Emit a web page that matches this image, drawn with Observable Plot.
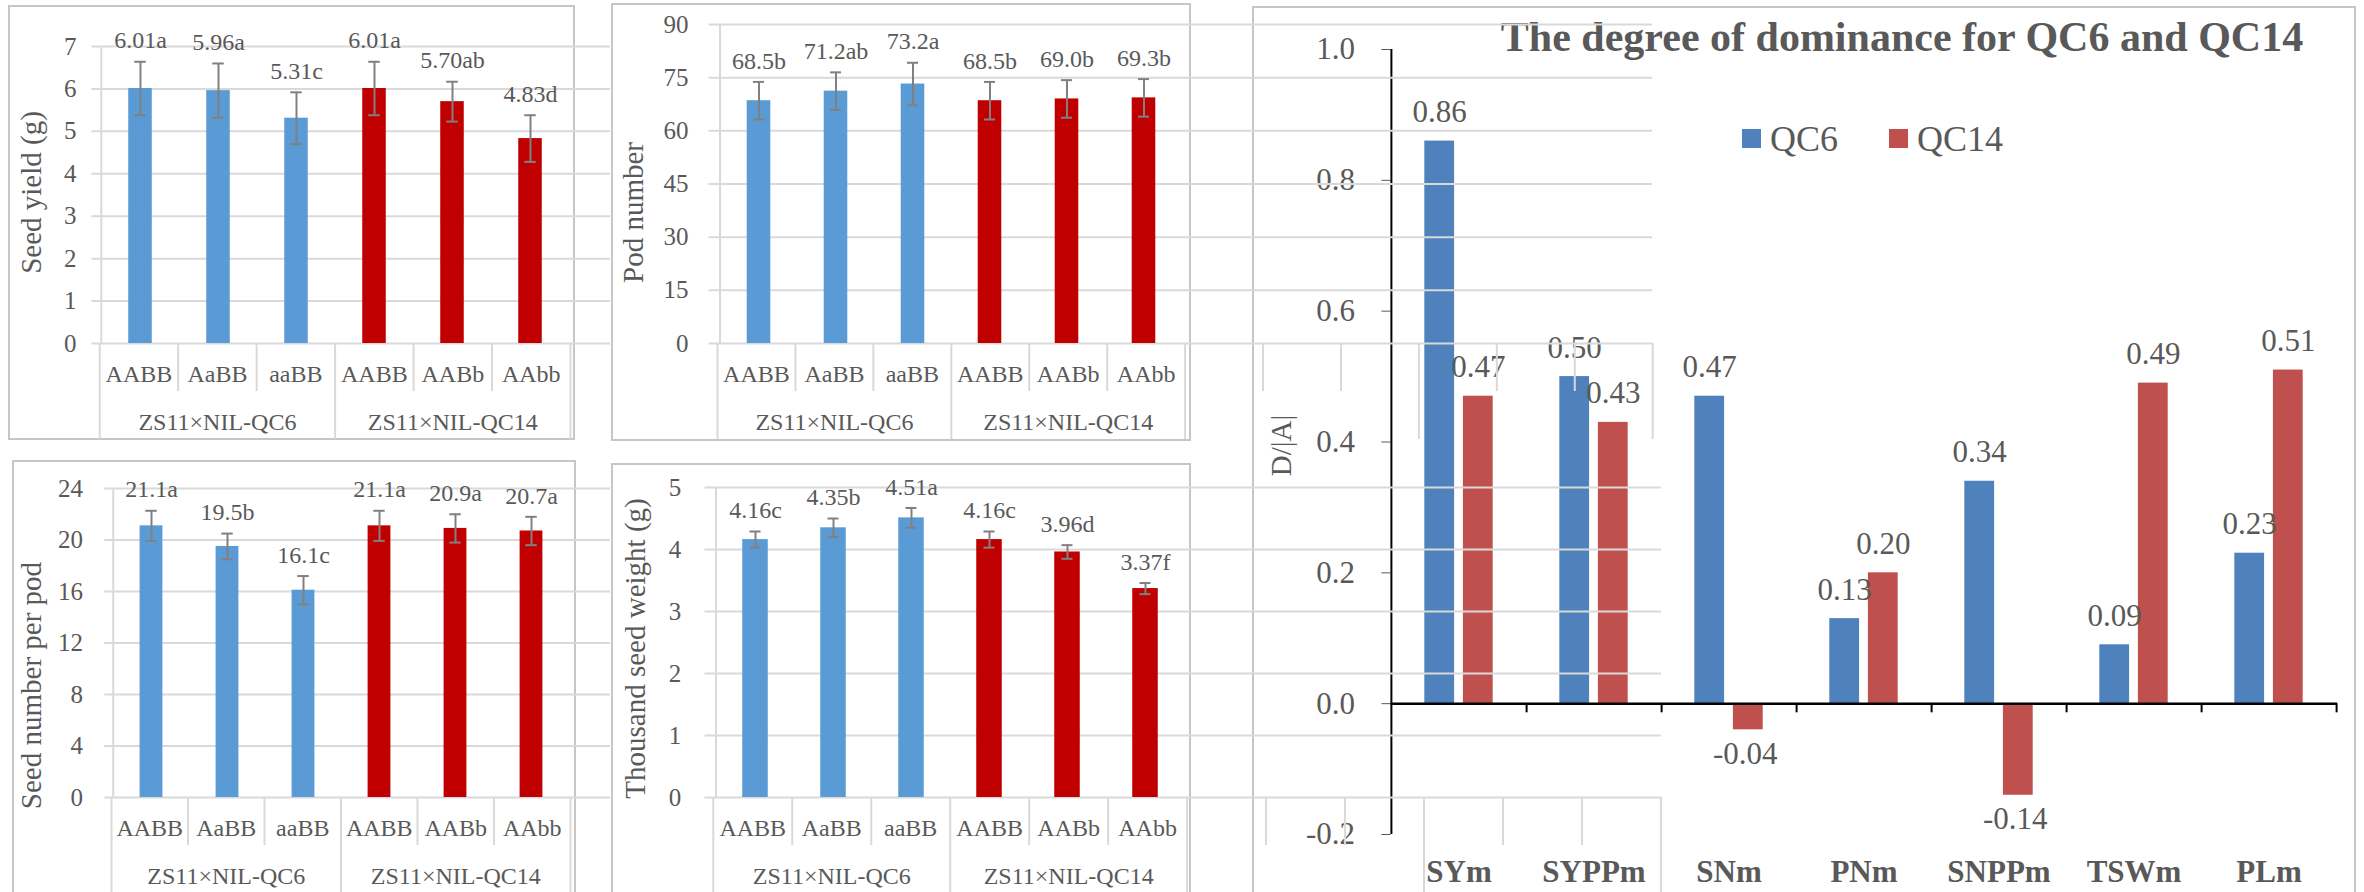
<!DOCTYPE html>
<html>
<head>
<meta charset="utf-8">
<script src="https://cdn.jsdelivr.net/npm/d3@7"></script>
<script src="https://cdn.jsdelivr.net/npm/@observablehq/plot@0.6"></script>
<style>
  html, body { margin: 0; padding: 0; background: #fff; }
  #page { position: relative; width: 2364px; height: 892px; overflow: hidden; background: #fff;
          font-family: "Liberation Serif", "Times New Roman", serif; color: #595959; }
  .box { position: absolute; border: 2px solid #c6c6c6; box-sizing: border-box; }
  .txt { position: absolute; white-space: nowrap; line-height: 1; font-family: "Liberation Serif", "Times New Roman", serif; }
  .sw { position: absolute; }
</style>
</head>
<body>
<div id="page"></div>
<script>
// ---------------- data ----------------
const genotypes = ["AABB", "AaBB", "aaBB", "AABB", "AABb", "AAbb"];
const crosses = ["ZS11×NIL-QC6", "ZS11×NIL-QC6", "ZS11×NIL-QC6", "ZS11×NIL-QC14", "ZS11×NIL-QC14", "ZS11×NIL-QC14"];

const seedYield    = [6.01, 5.96, 5.31, 6.01, 5.70, 4.83];
const seedYieldSE  = [0.63, 0.64, 0.61, 0.63, 0.47, 0.55];
const seedYieldSig = ["a", "a", "c", "a", "ab", "d"];
const seedYieldTicks = [0, 1, 2, 3, 4, 5, 6, 7];

const podNumber    = [68.5, 71.2, 73.2, 68.5, 69.0, 69.3];
const podNumberSE  = [5.3, 5.3, 6.0, 5.3, 5.3, 5.3];
const podNumberSig = ["b", "ab", "a", "b", "b", "b"];
const podNumberTicks = [0, 15, 30, 45, 60, 75, 90];

const seedsPerPod    = [21.1, 19.5, 16.1, 21.1, 20.9, 20.7];
const seedsPerPodSE  = [1.17, 1.0, 1.1, 1.17, 1.1, 1.1];
const seedsPerPodSig = ["a", "b", "c", "a", "a", "a"];
const seedsPerPodTicks = [0, 4, 8, 12, 16, 20, 24];

const tsw    = [4.16, 4.35, 4.51, 4.16, 3.96, 3.37];
const tswSE  = [0.13, 0.15, 0.16, 0.13, 0.11, 0.09];
const tswSig = ["c", "b", "a", "c", "d", "f"];
const tswTicks = [0, 1, 2, 3, 4, 5];

const traits = ["SYm", "SYPPm", "SNm", "PNm", "SNPPm", "TSWm", "PLm"];
const domQC6  = [0.86, 0.50, 0.47, 0.13, 0.34, 0.09, 0.23];
const domQC14 = [0.47, 0.43, -0.04, 0.20, -0.14, 0.49, 0.51];
const domTicks = [-0.2, 0.0, 0.2, 0.4, 0.6, 0.8, 1.0];
const seriesNames = ["QC6", "QC14"];

// ---------------- styles ----------------
const FONT = "'Liberation Serif', 'Times New Roman', serif";
const TEXT = "#595959";
const GRID = "#d9d9d9";
const ERR = "#808080";
const BAR_COLORS = ["#5b9bd5", "#c00000"];
const DOM_COLORS = ["#4f81bd", "#c0504d"];
const page = document.getElementById("page");

function svgStyle(left, top, fontSize) {
  return {
    position: "absolute", left: left + "px", top: top + "px",
    background: "transparent", maxWidth: "none", overflow: "visible",
    fontFamily: FONT, fontSize: fontSize + "px", color: TEXT
  };
}

function addBox(l, t, w, h) {
  const d = document.createElement("div");
  d.className = "box";
  Object.assign(d.style, {left: l + "px", top: t + "px", width: w + "px", height: h + "px"});
  page.appendChild(d);
}

// panel frames
addBox(8, 5, 567, 435);
addBox(611, 3, 580, 438);
addBox(12, 460, 564, 500);
addBox(611, 463, 580, 500);
addBox(1252, 6, 1104, 900);

const crossNames = Array.from(new Set(crosses));

function leftPanel(o) {
  const rows = genotypes.map((g, i) => ({
    i, geno: g, cross: crosses[i], v: o.values[i], e: o.errs[i],
    label: o.values[i].toFixed(o.digits) + o.sig[i]
  }));
  const n = rows.length;
  const step = (o.xr[1] - o.xr[0]) / n;
  const marginTop = o.yMax - o.svgTop;
  const height = o.y0 - o.svgTop + 2;
  const marginLeft = o.gridX0 - o.svgLeft;
  const frameMid = (o.yMax + o.y0) / 2;
  const barInset = (step - o.bw) / 2;
  const capInset = (step - 12) / 2;

  const main = Plot.plot({
    width: o.svgWidth, height,
    marginLeft, marginRight: 0, marginTop, marginBottom: 2,
    style: svgStyle(o.svgLeft, o.svgTop, 25),
    x: {type: "band", domain: rows.map(d => d.i), range: [o.xr[0] - o.svgLeft, o.xr[1] - o.svgLeft], padding: 0, axis: null},
    y: {domain: [0, o.max], range: [o.y0 - o.svgTop, marginTop], ticks: o.ticks, tickSize: 0,
        tickPadding: o.tickPadding, tickFormat: d => String(d), label: null},
    color: {domain: crossNames, range: BAR_COLORS},
    marks: [
      Plot.ruleY(o.ticks, {stroke: GRID, strokeWidth: 2, strokeOpacity: 1}),
      Plot.ruleX([rows[0].i], {dx: -step / 2, stroke: GRID, strokeWidth: 2}),
      Plot.barY(rows, {x: "i", y: "v", fill: "cross", insetLeft: barInset, insetRight: barInset}),
      Plot.ruleX(rows, {x: "i", y1: d => d.v - d.e, y2: d => d.v + d.e, stroke: ERR, strokeWidth: 2}),
      Plot.tickY(rows, {x: "i", y: d => d.v + d.e, stroke: ERR, strokeWidth: 2, insetLeft: capInset, insetRight: capInset}),
      Plot.tickY(rows, {x: "i", y: d => d.v - d.e, stroke: ERR, strokeWidth: 2, insetLeft: capInset, insetRight: capInset}),
      Plot.text(rows, {x: "i", y: d => d.v + d.e, dy: -21, text: "label", fontSize: 24}),
      Plot.text([o.title], {frameAnchor: "left", textAnchor: "middle", lineAnchor: "middle", rotate: -90,
        dx: o.titleX - o.gridX0, dy: o.titleY - frameMid, fontSize: 29})
    ]
  });
  page.appendChild(main);

  // multi-level category axis below the plot (the original axis continues with empty,
  // unlabeled slots that peek out from under the right-hand chart)
  const groupSize = n / crossNames.length;
  const total = n + (o.ghost || 0);
  const edges = d3.range(0, total + 1).filter(k => k % groupSize === 0);
  const inner = d3.range(1, total).filter(k => k % groupSize !== 0);
  const groups = crossNames.map(c => {
    const idx = rows.filter(d => d.cross === c).map(d => d.i);
    return {name: c, x: d3.mean(idx) + 0.5};
  });
  const strip = Plot.plot({
    width: o.svgWidth, height: o.stripH,
    marginLeft: 0, marginRight: 0, marginTop: 0, marginBottom: 0,
    style: svgStyle(o.svgLeft, o.y0, 24),
    x: {type: "linear", domain: [0, total], range: [o.xr[0] - o.svgLeft, o.xr[0] - o.svgLeft + step * total], axis: null},
    y: {type: "band", domain: ["geno", "cross"], range: [0, 96], padding: 0, axis: null},
    marks: [
      Plot.tickX(inner, {x: d => d, y: () => "geno", stroke: GRID, strokeWidth: 2}),
      Plot.tickX(edges, {x: d => d, stroke: GRID, strokeWidth: 2}),
      Plot.text(rows, {x: d => d.i + 0.5, y: () => "geno", text: "geno", dy: 7, fontSize: 24}),
      Plot.text(groups, {x: "x", y: () => "cross", text: "name", dy: 7, fontSize: 24})
    ]
  });
  page.appendChild(strip);
}

// ---------------- right panel (degree of dominance) ----------------
(function rightPanel() {
  const svgLeft = 1253, width = 1102, height = 892;
  const xr = [1390.5, 2337];
  const yTopPx = 49, yBotPx = 834;
  const step = (xr[1] - xr[0]) / traits.length;
  const bw = 30, off = 19.3;
  const inset = (step - bw) / 2;
  const rows = traits.flatMap((t, i) => [
    {trait: t, series: seriesNames[0], value: domQC6[i]},
    {trait: t, series: seriesNames[1], value: domQC14[i]}
  ]);
  const s1 = rows.filter(d => d.series === seriesNames[0]);
  const s2 = rows.filter(d => d.series === seriesNames[1]);
  const fmt = d => d.value.toFixed(2);
  const frameMid = (yTopPx + yBotPx) / 2;

  const svg = Plot.plot({
    width, height,
    marginLeft: xr[0] - svgLeft, marginRight: svgLeft + width - xr[1],
    marginTop: yTopPx, marginBottom: height - yBotPx,
    style: svgStyle(svgLeft, 0, 31),
    x: {type: "band", domain: traits, padding: 0, axis: null},
    y: {domain: [-0.2, 1.0], ticks: domTicks, tickSize: 9, tickPadding: 27, tickFormat: d => d.toFixed(1), label: null},
    color: {domain: seriesNames, range: DOM_COLORS},
    marks: [
      Plot.barY(s1, {x: "trait", y: "value", fill: "series", dx: -off, insetLeft: inset, insetRight: inset}),
      Plot.barY(s2, {x: "trait", y: "value", fill: "series", dx: off, insetLeft: inset, insetRight: inset}),
      Plot.ruleX([traits[0]], {dx: -step / 2, stroke: "#000", strokeWidth: 2}),
      Plot.ruleY([0], {stroke: "#000", strokeWidth: 2.5}),
      Plot.ruleX(traits, {dx: step / 2, y1: 0, y2: -0.014, stroke: "#000", strokeWidth: 2}),
      Plot.text(s1.filter(d => d.value >= 0), {x: "trait", y: "value", text: fmt, dx: -off, dy: -29, fontSize: 31}),
      Plot.text(s2.filter(d => d.value >= 0), {x: "trait", y: "value", text: fmt, dx: off, dy: -29, fontSize: 31}),
      Plot.text(s1.filter(d => d.value < 0), {x: "trait", y: "value", text: fmt, dx: -off, dy: 24, fontSize: 31}),
      Plot.text(s2.filter(d => d.value < 0), {x: "trait", y: "value", text: fmt, dx: off - 3, dy: 24, fontSize: 31}),
      Plot.text(traits, {x: d => d, text: d => d, frameAnchor: "bottom", lineAnchor: "middle", dy: 38, fontSize: 31, fontWeight: "bold"}),
      Plot.text(["D/|A|"], {frameAnchor: "left", textAnchor: "middle", lineAnchor: "middle", rotate: -90,
        dx: 1281 - xr[0], dy: 445 - frameMid, fontSize: 29})
    ]
  });
  page.appendChild(svg);

  // title
  const t = document.createElement("div");
  t.className = "txt";
  t.textContent = "The degree of dominance for QC6 and QC14";
  Object.assign(t.style, {left: "1402px", width: "1000px", textAlign: "center", top: "16px",
    fontSize: "42px", fontWeight: "bold", color: TEXT});
  page.appendChild(t);

  // legend
  const legendPos = [{sw: 1742, tx: 1770}, {sw: 1889, tx: 1917}];
  seriesNames.forEach((name, k) => {
    const sw = document.createElement("div");
    sw.className = "sw";
    Object.assign(sw.style, {left: legendPos[k].sw + "px", top: "129px", width: "19px", height: "19px", background: DOM_COLORS[k]});
    page.appendChild(sw);
    const lt = document.createElement("div");
    lt.className = "txt";
    lt.textContent = name;
    Object.assign(lt.style, {left: legendPos[k].tx + "px", top: "121px", fontSize: "36px", color: TEXT});
    page.appendChild(lt);
  });
})();

// ---------------- left panels (drawn after so their long gridlines overlay) ----------------
leftPanel({values: seedYield, errs: seedYieldSE, sig: seedYieldSig, digits: 2, ticks: seedYieldTicks, max: 7,
  svgLeft: 0, svgTop: 0, svgWidth: 610, gridX0: 91.4, xr: [99.2, 570], y0: 343, yMax: 46,
  tickPadding: 15.5, bw: 24, title: "Seed yield (g)", titleX: 31, titleY: 192, stripH: 96});

leftPanel({values: podNumber, errs: podNumberSE, sig: podNumberSig, digits: 1, ticks: podNumberTicks, max: 90,
  svgLeft: 611, svgTop: 0, svgWidth: 1041, gridX0: 708.6, xr: [717, 1184.6], y0: 343, yMax: 24,
  tickPadding: 20.7, bw: 24.5, title: "Pod number", titleX: 633, titleY: 212, stripH: 96, ghost: 6});

leftPanel({values: seedsPerPod, errs: seedsPerPodSE, sig: seedsPerPodSig, digits: 1, ticks: seedsPerPodTicks, max: 24,
  svgLeft: 0, svgTop: 440, svgWidth: 610, gridX0: 104.3, xr: [111, 570], y0: 797, yMax: 488,
  tickPadding: 21.8, bw: 23.3, title: "Seed number per pod", titleX: 31, titleY: 685, stripH: 95});

leftPanel({values: tsw, errs: tswSE, sig: tswSig, digits: 2, ticks: tswTicks, max: 5,
  svgLeft: 611, svgTop: 440, svgWidth: 1050, gridX0: 704.5, xr: [712.8, 1186.6], y0: 797, yMax: 487,
  tickPadding: 23.7, bw: 26.5, title: "Thousand seed weight (g)", titleX: 635, titleY: 648, stripH: 95, ghost: 6});
</script>
</body>
</html>
